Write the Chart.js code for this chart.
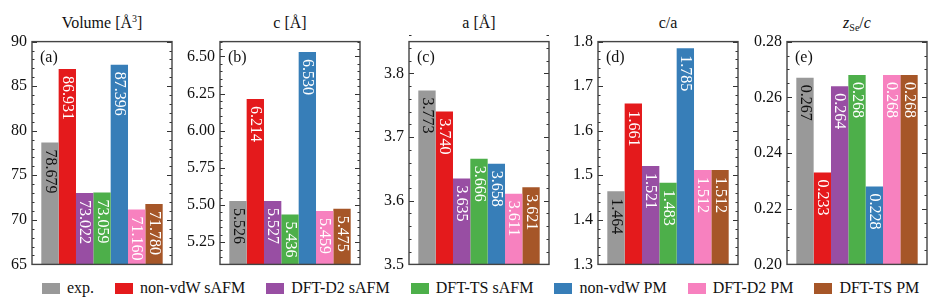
<!DOCTYPE html>
<html>
<head>
<meta charset="utf-8">
<script src="https://cdn.jsdelivr.net/npm/chart.js@4.4.1/dist/chart.umd.min.js"></script>
<style>
  body { margin: 0; width: 938px; height: 304px; background: #fff; position: relative; overflow: hidden; color: #111; }
  canvas.panel { position: absolute; top: 27px; }
  .title { position: absolute; top: 14px; width: 140px; text-align: center; font-family: 'Liberation Serif', 'DejaVu Serif', serif;
           font-size: 16px; line-height: 17px; font-weight: normal; }
  .title sup { font-size: 10px; vertical-align: 6px; line-height: 0; }
  .title sub { font-size: 10px; vertical-align: -3px; line-height: 0; }
  #legend { position: absolute; top: 279px; left: 42px; width: 900px; display: flex; align-items: center; white-space: nowrap;
            font-family: 'Liberation Serif', 'DejaVu Serif', serif; font-size: 16px; font-weight: normal; }
  #legend .item { display: flex; align-items: center; flex-shrink: 0; margin-right: 21px; }
  #legend .box { width: 18px; height: 11px; margin-right: 7px; flex-shrink: 0; }
</style>
</head>
<body>

<div class="title" style="left:32px">Volume [Å<sup>3</sup>]</div>
<div class="title" style="left:220px">c [Å]</div>
<div class="title" style="left:409px">a [Å]</div>
<div class="title" style="left:598px">c/a</div>
<div class="title" style="left:787px"><i>z</i><sub>Se</sub>/<i>c</i></div>

<canvas class="panel" id="p0" width="191" height="252"></canvas>
<canvas class="panel" id="p1" width="191" height="252"></canvas>
<canvas class="panel" id="p2" width="191" height="252"></canvas>
<canvas class="panel" id="p3" width="191" height="252"></canvas>
<canvas class="panel" id="p4" width="191" height="252"></canvas>

<div id="legend"></div>

<script>
const methods = ['exp.', 'non-vdW sAFM', 'DFT-D2 sAFM', 'DFT-TS sAFM', 'non-vdW PM', 'DFT-D2 PM', 'DFT-TS PM'];
const colors = ['#999999', '#e41a1c', '#984ea3', '#4daf4a', '#377eb8', '#f781bf', '#a65628'];

const volume = [78.679, 86.931, 73.022, 73.059, 87.396, 71.160, 71.780];
const cAxis  = [5.526, 6.214, 5.527, 5.436, 6.530, 5.459, 5.475];
const aAxis  = [3.773, 3.740, 3.635, 3.666, 3.658, 3.611, 3.621];
const cOverA = [1.464, 1.661, 1.521, 1.483, 1.785, 1.512, 1.512];
const zSe    = [0.267, 0.233, 0.264, 0.268, 0.228, 0.268, 0.268];

const volTicks = [65, 70, 75, 80, 85, 90];
const cTicks   = [5.25, 5.50, 5.75, 6.00, 6.25, 6.50];
const aTicks   = [3.5, 3.6, 3.7, 3.8];
const caTicks  = [1.3, 1.4, 1.5, 1.6, 1.7, 1.8];
const zTicks   = [0.20, 0.22, 0.24, 0.26, 0.28];

// one entry per panel
const panels = [
  { id: 'p0', left: 32,  letter: '(a)', values: volume, ticks: volTicks, min: 65,  max: 90,   minor: 1,     dec: 0 },
  { id: 'p1', left: 220, letter: '(b)', values: cAxis,  ticks: cTicks,   min: 5.1, max: 6.6,  minor: 0.05,  dec: 2 },
  { id: 'p2', left: 409, letter: '(c)', values: aAxis,  ticks: aTicks,   min: 3.5, max: 3.85, minor: 0.02,  dec: 1 },
  { id: 'p3', left: 598, letter: '(d)', values: cOverA, ticks: caTicks,  min: 1.3, max: 1.8,  minor: 0.02,  dec: 1 },
  { id: 'p4', left: 787, letter: '(e)', values: zSe,    ticks: zTicks,   min: 0.2, max: 0.28, minor: 0.005, dec: 2 }
];

const FONT = "'Liberation Serif', 'DejaVu Serif', serif";
const AXIS_W = 45;

// frame, inward ticks on both sides, panel letter and value labels
const framePlugin = {
  id: 'frame',
  afterDatasetsDraw(chart, args, opts) {
    const { ctx, chartArea: a } = chart;
    const y = chart.scales.y;
    ctx.save();
    ctx.strokeStyle = '#333';
    ctx.lineWidth = 1;
    // minor ticks
    const n = Math.round((opts.max - opts.min) / opts.minor);
    for (let i = 0; i <= n; i++) {
      const py = Math.round(y.getPixelForValue(opts.min + i * opts.minor)) + 0.5;
      ctx.beginPath();
      ctx.moveTo(a.left, py); ctx.lineTo(a.left + 2.5, py);
      ctx.moveTo(a.right, py); ctx.lineTo(a.right - 2.5, py);
      ctx.stroke();
    }
    // major ticks
    opts.ticks.forEach(v => {
      const py = Math.round(y.getPixelForValue(v)) + 0.5;
      ctx.beginPath();
      ctx.moveTo(a.left, py); ctx.lineTo(a.left + 5, py);
      ctx.moveTo(a.right, py); ctx.lineTo(a.right - 5, py);
      ctx.stroke();
    });
    ctx.strokeStyle = '#444';
    ctx.lineWidth = 1.4;
    ctx.strokeRect(a.left, a.top, a.right - a.left, a.bottom - a.top);

    ctx.fillStyle = '#111';
    ctx.font = '16px ' + FONT;
    ctx.textBaseline = 'middle';
    ctx.textAlign = 'left';
    ctx.fillText(opts.letter, a.left + 8, a.top + 16);

    // value labels, rotated, hanging from the top of each bar
    chart.data.datasets.forEach((ds, i) => {
      const bar = chart.getDatasetMeta(i).data[0];
      ctx.save();
      ctx.translate(bar.x, bar.y + 7);
      ctx.rotate(Math.PI / 2);
      ctx.fillStyle = i === 0 ? '#111' : '#fff';
      ctx.font = '16px ' + FONT;
      ctx.textAlign = 'left';
      ctx.textBaseline = 'middle';
      ctx.fillText(ds.data[0].toFixed(3), 0, 0);
      ctx.restore();
    });
    ctx.restore();
  }
};

panels.forEach(p => {
  const canvas = document.getElementById(p.id);
  canvas.style.left = (p.left - AXIS_W) + 'px';
  new Chart(canvas.getContext('2d'), {
    type: 'bar',
    data: {
      labels: [''],
      datasets: methods.map((m, i) => ({
        label: m,
        data: [p.values[i]],
        backgroundColor: colors[i],
        borderWidth: 0
      }))
    },
    options: {
      responsive: false,
      devicePixelRatio: 1,
      animation: false,
      layout: { padding: { left: 0, right: 6, top: 10, bottom: 10 } },
      datasets: { bar: { barPercentage: 1, categoryPercentage: 0.867 } },
      plugins: {
        legend: { display: false },
        tooltip: { enabled: false },
        frame: p
      },
      scales: {
        x: { display: false },
        y: {
          min: p.min,
          max: p.max,
          grid: { display: false, drawTicks: false },
          border: { display: false },
          ticks: {
            padding: 5,
            color: '#111',
            font: { family: FONT, size: 16 },
            callback: v => Number(v).toFixed(p.dec)
          },
          afterBuildTicks: s => { s.ticks = p.ticks.map(v => ({ value: v })); },
          afterFit: s => { s.width = AXIS_W; }
        }
      }
    },
    plugins: [framePlugin]
  });
});

// legend
const legend = document.getElementById('legend');
methods.forEach((m, i) => {
  const item = document.createElement('div');
  item.className = 'item';
  item.innerHTML = '<span class="box" style="background:' + colors[i] + '"></span><span>' + m + '</span>';
  legend.appendChild(item);
});
</script>
</body>
</html>
